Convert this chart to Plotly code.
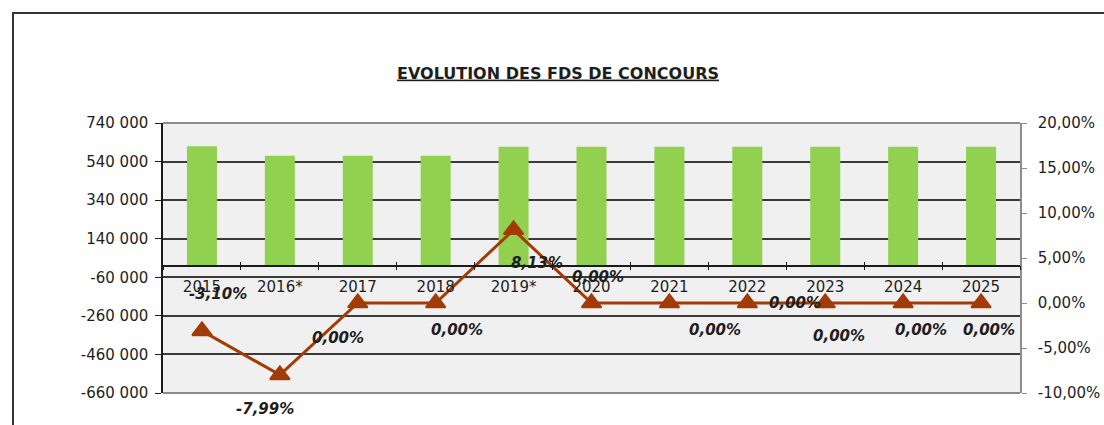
import plotly.graph_objects as go

# ---- data ----
years = ["2015", "2016*", "2017", "2018", "2019*", "2020",
         "2021", "2022", "2023", "2024", "2025"]
fds_amounts = [620000, 570460, 570460, 570460, 616840, 616840,
               616840, 616840, 616840, 616840, 616840]
growth_rates = [-0.0310, -0.0799, 0.0, 0.0, 0.0813, 0.0,
                0.0, 0.0, 0.0, 0.0, 0.0]

left_tick_vals = [-660000, -460000, -260000, -60000, 140000, 340000, 540000, 740000]
left_tick_text = ["-660 000", "-460 000", "-260 000", "-60 000",
                  "140 000", "340 000", "540 000", "740 000"]
right_tick_vals = [-0.10, -0.05, 0.0, 0.05, 0.10, 0.15, 0.20]
right_tick_text = ["-10,00%", "-5,00%", "0,00%", "5,00%", "10,00%", "15,00%", "20,00%"]

title_text = "EVOLUTION DES FDS DE CONCOURS"

# ---- styling ----
W, H = 1104, 425
ML, MR, MT, MB = 163, 84, 123, 32
FONT = "DejaVu Sans"
TXT = "#1e1e1e"
BAR_COLOR = "#92D050"
LINE_COLOR = "#A23B05"
GRID = "#3a3a3a"
FRAME_GRAY = "#8c8c8c"

left_range = [left_tick_vals[0], left_tick_vals[-1]]
right_range = [right_tick_vals[0], right_tick_vals[-1]]
# category axis crosses the value axis at 0
zero_pos = (0 - left_range[0]) / (left_range[1] - left_range[0])

# pixel offsets of each rate label relative to its marker (dx, dy; dy downwards)
label_offsets = [(16, -37), (-15, 34), (-20, 35), (21, 27), (23, 33), (6, -26),
                 (46, 27), (48, 0), (14, 33), (18, 27), (8, 27)]


def pct_label(v):
    return f"{v * 100:.2f}%".replace(".", ",")


fig = go.Figure()

fig.add_trace(go.Bar(
    x=years, y=fds_amounts, xaxis="x", yaxis="y",
    marker=dict(color=BAR_COLOR, line=dict(width=0)),
    showlegend=False, hoverinfo="skip",
))

fig.add_trace(go.Scatter(
    x=years, y=growth_rates, xaxis="x", yaxis="y2",
    mode="lines+markers",
    line=dict(color=LINE_COLOR, width=3),
    marker=dict(symbol="triangle-up", size=17, color=LINE_COLOR,
                line=dict(color=LINE_COLOR, width=2)),
    showlegend=False, hoverinfo="skip",
))

# invisible helper trace that gives the inner tick axis its categories
fig.add_trace(go.Scatter(
    x=years, y=fds_amounts, xaxis="x2", yaxis="y",
    mode="none", showlegend=False, hoverinfo="skip",
))

annotations = []
for idx, (v, (dx, dy)) in enumerate(zip(growth_rates, label_offsets)):
    # category index keeps numeric-looking year names from being read as coordinates
    annotations.append(dict(
        x=idx, y=v, xref="x", yref="y2",
        text=f"<b><i>{pct_label(v)}</i></b>",
        showarrow=False, xshift=dx, yshift=-dy,
        font=dict(family=FONT, size=15, color=TXT),
        xanchor="center", yanchor="middle",
    ))

shapes = [
    # outer chart frame
    dict(type="rect", xref="paper", yref="paper",
         x0=(13 - ML) / (W - ML - MR), x1=(W + 20 - ML) / (W - ML - MR),
         y0=(H - MB - (H + 20)) / (H - MT - MB), y1=(H - MB - 13) / (H - MT - MB),
         line=dict(color="#333333", width=2), fillcolor="rgba(0,0,0,0)", layer="above"),
    # top and bottom edges of the plot area
    dict(type="line", xref="paper", yref="paper", x0=0, x1=1, y0=1, y1=1,
         line=dict(color=FRAME_GRAY, width=2), layer="above"),
    dict(type="line", xref="paper", yref="paper", x0=0, x1=1, y0=0, y1=0,
         line=dict(color=FRAME_GRAY, width=2), layer="above"),
]

fig.update_layout(
    template="none",
    width=W, height=H,
    margin=dict(l=ML, r=MR, t=MT, b=MB, pad=0),
    paper_bgcolor="white",
    plot_bgcolor="#F0F0F0",
    bargap=0.615,
    showlegend=False,
    title=dict(
        text=title_text,
        xref="container", yref="container",
        x=558 / W, y=1 - 73 / H, xanchor="center", yanchor="middle",
        font=dict(family=FONT, size=16, color=TXT, weight="bold", lineposition="under"),
    ),
    xaxis=dict(
        type="category", anchor="free", position=zero_pos,
        range=[-0.5, len(years) - 0.5],
        showline=True, linecolor="#1a1a1a", linewidth=1.5,
        ticks="outside", ticklen=4, tickcolor="#1a1a1a", tickwidth=1,
        tickson="boundaries",
        showgrid=False, zeroline=False,
        tickfont=dict(family=FONT, size=15, color=TXT),
        ticklabelstandoff=8,
        automargin=False,
    ),
    xaxis2=dict(
        type="category", overlaying="x", anchor="free", position=zero_pos,
        range=[-0.5, len(years) - 0.5],
        showline=False, ticks="inside", ticklen=4, tickcolor="#1a1a1a", tickwidth=1,
        tickson="boundaries", showticklabels=False,
        showgrid=False, zeroline=False, automargin=False,
    ),
    yaxis=dict(
        range=left_range,
        tickvals=left_tick_vals, ticktext=left_tick_text,
        showline=True, linecolor="#1a1a1a", linewidth=1.5,
        ticks="outside", ticklen=6, tickcolor="#1a1a1a", tickwidth=1,
        showgrid=True, gridcolor=GRID, gridwidth=1.8,
        zeroline=False,
        tickfont=dict(family=FONT, size=15, color=TXT),
        ticklabelstandoff=4,
        automargin=False,
    ),
    yaxis2=dict(
        overlaying="y", side="right", anchor="x",
        range=right_range,
        tickvals=right_tick_vals, ticktext=right_tick_text,
        showline=True, linecolor=FRAME_GRAY, linewidth=1.5,
        ticks="outside", ticklen=5, tickcolor=FRAME_GRAY, tickwidth=1,
        showgrid=False, zeroline=False,
        tickfont=dict(family=FONT, size=15, color=TXT),
        ticklabelstandoff=8,
        automargin=False,
    ),
    annotations=annotations,
    shapes=shapes,
)

fig.write_html("out.html")
